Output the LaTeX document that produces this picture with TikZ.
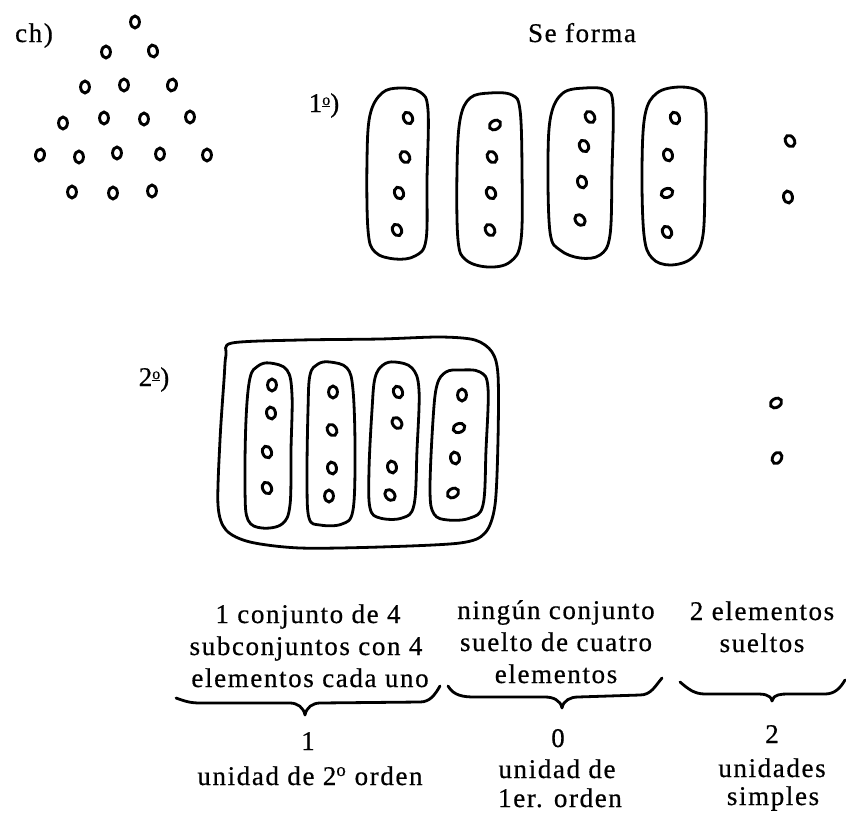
\documentclass[tikz,border=0pt]{standalone}
\usepackage{fontspec}
\setmainfont[LetterSpace=6,FakeBold=0.6]{Liberation Serif}
\begin{document}
\begin{tikzpicture}[x=1pt,y=-1pt,
  blob/.style={line width=2.8pt,line join=round},
  dotst/.style={line width=2.9pt},
  brace/.style={line width=2.8pt,line cap=round,line join=round},
  txt/.style={anchor=base,inner sep=0pt,font=\fontsize{27}{32}\selectfont}]
\newcommand\pdot[3]{\draw[dotst,rotate around={#3:(#1,#2)}] (#1,#2) ellipse (4.4 and 6);}
\newcommand\ordo{\raisebox{7pt}{\fontsize{16}{16}\selectfont\underline{o}}}
\useasboundingbox (0,0) rectangle (846,814);
% labels
\node[txt] (ch) at (34,42) {ch)};
\node[txt] (seforma) at (582,42) {Se forma};
\node[txt] (uno) at (324,112) {1\ordo)};
\node[txt] (dos) at (154,386) {2\ordo)};
% triangle
\pdot{135}{22}{0}
\pdot{106}{52}{0}\pdot{153}{51}{10}
\pdot{85}{87}{0}\pdot{124}{85}{0}\pdot{172}{85}{-10}
\pdot{63}{123}{0}\pdot{104}{118}{0}\pdot{144}{119}{0}\pdot{190}{117}{0}
\pdot{40}{155}{-10}\pdot{79}{157}{0}\pdot{117}{153}{0}\pdot{160}{154}{0}\pdot{207}{155}{0}
\pdot{72}{192}{0}\pdot{113}{193}{0}\pdot{152}{191}{0}
% 1st: four blobs
\draw[blob] plot[smooth cycle,tension=0.6] coordinates {(400,88)(420,92)(428,110)(427,180)(426,240)(415,256)(395,259)(375,252)(368,230)(367,160)(370,115)(382,93)};
\draw[blob] plot[smooth cycle,tension=0.6] coordinates {(490,93)(512,95)(520,110)(522,170)(521,240)(510,262)(488,267)(466,260)(458,240)(457,170)(460,120)(470,98)};
\draw[blob] plot[smooth cycle,tension=0.6] coordinates {(585,88)(606,90)(613,105)(612,170)(610,235)(600,255)(580,258)(560,250)(550,232)(548,160)(551,115)(563,93)};
\draw[blob] plot[smooth cycle,tension=0.6] coordinates {(680,87)(700,92)(706,110)(705,170)(703,235)(692,258)(670,265)(652,258)(644,235)(642,170)(645,115)(657,93)};
\pdot{408}{118}{25}\pdot{405}{157}{30}\pdot{399}{193}{20}\pdot{397}{230}{25}
\pdot{495}{125}{-60}\pdot{492}{157}{30}\pdot{491}{193}{25}\pdot{490}{230}{30}
\pdot{590}{117}{30}\pdot{584}{146}{25}\pdot{582}{182}{15}\pdot{580}{220}{40}
\pdot{675}{118}{20}\pdot{668}{155}{15}\pdot{667}{193}{-70}\pdot{667}{232}{25}
\pdot{790}{141}{30}\pdot{788}{197}{10}
% 2nd: big set
\draw[blob] plot[smooth cycle,tension=0.5] coordinates {(232,343)(300,340)(380,339)(440,337)(475,340)(492,352)(498,375)(498,440)(495,505)(485,533)(460,543)(380,547)(300,548)(250,542)(226,530)(218,505)(220,440)(224,380)(226,355)};
\draw[blob] plot[smooth cycle,tension=0.6] coordinates {(270,363)(287,370)(292,395)(291,450)(290,505)(282,524)(262,528)(248,520)(245,490)(246,420)(250,378)(258,366)};
\draw[blob] plot[smooth cycle,tension=0.6] coordinates {(330,362)(347,368)(353,390)(355,450)(353,510)(342,524)(320,525)(309,518)(307,480)(308,410)(310,375)(318,364)};
\draw[blob] plot[smooth cycle,tension=0.6] coordinates {(395,362)(412,368)(419,390)(417,450)(414,505)(402,518)(380,518)(370,508)(369,470)(372,410)(375,378)(383,365)};
\draw[blob] plot[smooth cycle,tension=0.6] coordinates {(460,370)(480,372)(488,388)(486,450)(483,505)(470,518)(448,520)(434,514)(430,490)(433,420)(437,385)(446,372)};
\pdot{272}{385}{0}\pdot{271}{413}{10}\pdot{267}{452}{20}\pdot{267}{488}{25}
\pdot{333}{392}{0}\pdot{332}{430}{30}\pdot{332}{468}{10}\pdot{329}{496}{0}
\pdot{398}{392}{20}\pdot{397}{423}{35}\pdot{392}{467}{10}\pdot{390}{495}{40}
\pdot{462}{395}{0}\pdot{459}{428}{-70}\pdot{455}{458}{10}\pdot{453}{493}{-60}
\pdot{776}{403}{-60}\pdot{777}{458}{-30}
% bottom texts
\node[txt] (a1) at (308,623) {1 conjunto de 4};
\node[txt] (a2) at (306,655) {subconjuntos con 4};
\node[txt] (a3) at (310,687) {elementos cada uno};
\node[txt] (b1) at (556,619) {ningún conjunto};
\node[txt] (b2) at (556,651) {suelto de cuatro};
\node[txt] (b3) at (556,683) {elementos};
\node[txt] (c1) at (762,620) {2 elementos};
\node[txt] (c2) at (762,652) {sueltos};
% braces
\draw[brace] (176,698) to[out=-20,in=180] (200,703) -- (290,703) to[out=0,in=100] (305,715) to[out=80,in=180] (320,703) -- (420,702) to[out=0,in=-120] (440,686);
\draw[brace] (448,686) to[out=-60,in=180] (475,697) -- (545,697) to[out=0,in=100] (562,708) to[out=80,in=180] (578,697) -- (640,695) to[out=0,in=-130] (662,678);
\draw[brace] (680,682) to[out=-40,in=180] (705,694) -- (755,694) to[out=0,in=100] (772,701) to[out=80,in=180] (788,694) -- (825,694) to[out=0,in=-120] (845,680);
% results
\node[txt] (r1) at (308,750) {1};
\node[txt] (r1b) at (310,785) {unidad de 2\textsuperscript{o} orden};
\node[txt] (r2) at (558,747) {0};
\node[txt] (r2b) at (557,778) {unidad de};
\node[txt] (r2c) at (560,807) {1er. orden};
\node[txt] (r3) at (772,743) {2};
\node[txt] (r3b) at (772,777) {unidades};
\node[txt] (r3c) at (773,805) {simples};
\end{tikzpicture}
\end{document}
